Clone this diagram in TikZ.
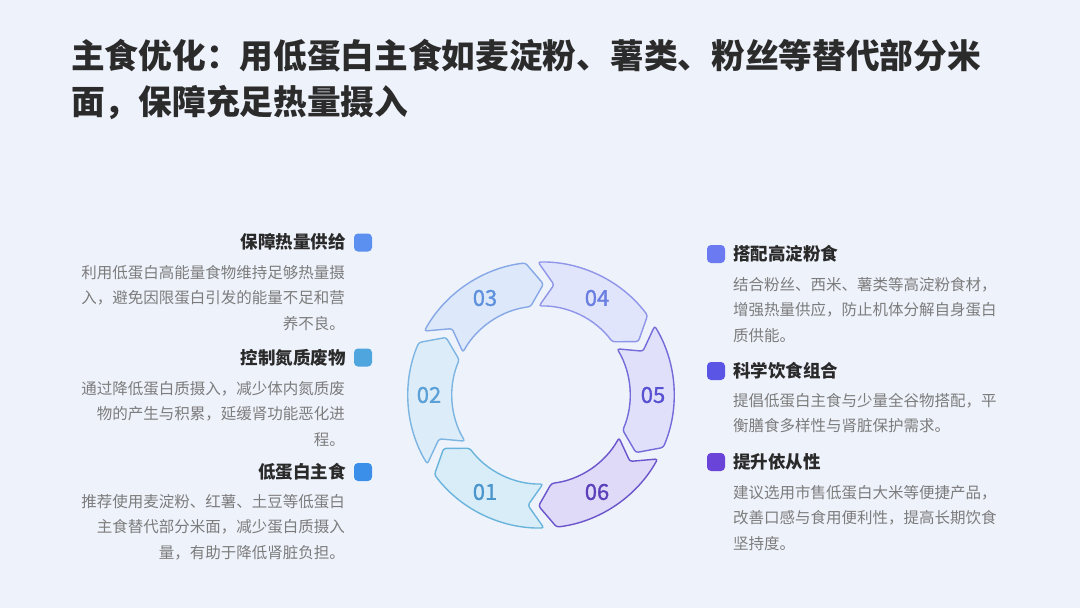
\documentclass[tikz,border=0pt]{standalone}
\usepackage{fontspec}
\setmainfont{Noto Sans CJK SC}
\newfontfamily\numfont{Noto Sans CJK SC}[FakeBold=1.2]
\definecolor{bg}{HTML}{EEF2FB}
\definecolor{titlec}{HTML}{2B2B2B}
\definecolor{headc}{HTML}{2A2A2A}
\definecolor{bodyc}{HTML}{7C7C7C}
\definecolor{L1}{HTML}{5B8FF0}
\definecolor{L2}{HTML}{4FA6DE}
\definecolor{L3}{HTML}{3C8FE8}
\definecolor{R1}{HTML}{6B7AF0}
\definecolor{R2}{HTML}{5B55E6}
\definecolor{R3}{HTML}{6A44D8}
\definecolor{f1}{HTML}{D9EDF8}\definecolor{d1}{HTML}{6AB4DC}\definecolor{t1}{HTML}{4A95CC}
\definecolor{f2}{HTML}{DCECF9}\definecolor{d2}{HTML}{7DB5E2}\definecolor{t2}{HTML}{5BA0D6}
\definecolor{f3}{HTML}{DDE9FA}\definecolor{d3}{HTML}{86A8E6}\definecolor{t3}{HTML}{5E90DE}
\definecolor{f4}{HTML}{E0E5FB}\definecolor{d4}{HTML}{8F95E8}\definecolor{t4}{HTML}{6A7EE2}
\definecolor{f5}{HTML}{E1E0FA}\definecolor{d5}{HTML}{736BDA}\definecolor{t5}{HTML}{5851D2}
\definecolor{f6}{HTML}{DEDAF8}\definecolor{d6}{HTML}{6B55CC}\definecolor{t6}{HTML}{5B40BA}
\begin{document}
\begin{tikzpicture}[x=1pt,y=1pt,
  head/.style={font=\fontsize{17.5}{21}\selectfont\bfseries, text=headc, inner sep=0pt},
  body/.style={font=\fontsize{15.5}{25.5}\selectfont, text=bodyc, inner sep=0pt},
  sq/.style={rounded corners=4pt, minimum size=18pt, inner sep=0pt},
  num/.style={font=\numfont\fontsize{22}{22}\selectfont, inner sep=0pt},
  seg/.style={line width=1.4pt, rounded corners=2.5pt}]
\fill[bg] (0,0) rectangle (1080,-608);
\useasboundingbox (0,0) rectangle (1080,-608);
% title
\node[anchor=north west, font=\fontsize{33.7}{46}\selectfont\bfseries, text=titlec, align=left, inner sep=0pt] (title) at (71,-39)
 {主食优化：用低蛋白主食如麦淀粉、薯类、粉丝等替代部分米\\面，保障充足热量摄入};
% ring
\def\gapang{5.5}\def\tipang{8}
\begin{scope}[shift={(541,-395)}]
\foreach \i/\c in {1/240,2/180,3/120,4/60,5/0,6/300}{
  \pgfmathsetmacro\Aa{\c+30-\gapang/2+\tipang/2}
  \pgfmathsetmacro\Am{\c+30-\gapang/2-\tipang/2}
  \pgfmathsetmacro\Ba{\c-30+\gapang/2+\tipang/2}
  \pgfmathsetmacro\Bm{\c-30+\gapang/2-\tipang/2}
  \draw[seg, draw=d\i, fill=f\i] (\Aa:133) arc[start angle=\Aa, end angle=\Ba, radius=133]
     -- (\Bm:111) -- (\Ba:89) arc[start angle=\Ba, end angle=\Aa, radius=89] -- (\Am:111) -- cycle;
  \node[num, text=t\i] (n\i) at (\c:112) {0\i};
}
\end{scope}
% left column
\node[sq, fill=L1] (sl1) at (363,-242.5) {};
\node[head, anchor=east] (hl1) at (346,-242) {保障热量供给};
\node[body, anchor=north east, align=right] (bl1) at (345,-265) {利用低蛋白高能量食物维持足够热量摄\\入，避免因限蛋白引发的能量不足和营\\养不良。};
\node[sq, fill=L2] (sl2) at (363,-357.5) {};
\node[head, anchor=east] (hl2) at (346,-357.5) {控制氮质废物};
\node[body, anchor=north east, align=right] (bl2) at (345,-381) {通过降低蛋白质摄入，减少体内氮质废\\物的产生与积累，延缓肾功能恶化进\\程。};
\node[sq, fill=L3] (sl3) at (363,-472) {};
\node[head, anchor=east] (hl3) at (346,-472) {低蛋白主食};
\node[body, anchor=north east, align=right] (bl3) at (345,-494) {推荐使用麦淀粉、红薯、土豆等低蛋白\\主食替代部分米面，减少蛋白质摄入\\量，有助于降低肾脏负担。};
% right column
\node[sq, fill=R1] (sr1) at (716,-254) {};
\node[head, anchor=west] (hr1) at (733,-254) {搭配高淀粉食};
\node[body, anchor=north west, align=left] (br1) at (733,-277) {结合粉丝、西米、薯类等高淀粉食材，\\增强热量供应，防止机体分解自身蛋白\\质供能。};
\node[sq, fill=R2] (sr2) at (716,-371) {};
\node[head, anchor=west] (hr2) at (733,-371) {科学饮食组合};
\node[body, anchor=north west, align=left] (br2) at (733,-393) {提倡低蛋白主食与少量全谷物搭配，平\\衡膳食多样性与肾脏保护需求。};
\node[sq, fill=R3] (sr3) at (716,-462) {};
\node[head, anchor=west] (hr3) at (733,-462) {提升依从性};
\node[body, anchor=north west, align=left] (br3) at (733,-485) {建议选用市售低蛋白大米等便捷产品，\\改善口感与食用便利性，提高长期饮食\\坚持度。};
\end{tikzpicture}
\end{document}
